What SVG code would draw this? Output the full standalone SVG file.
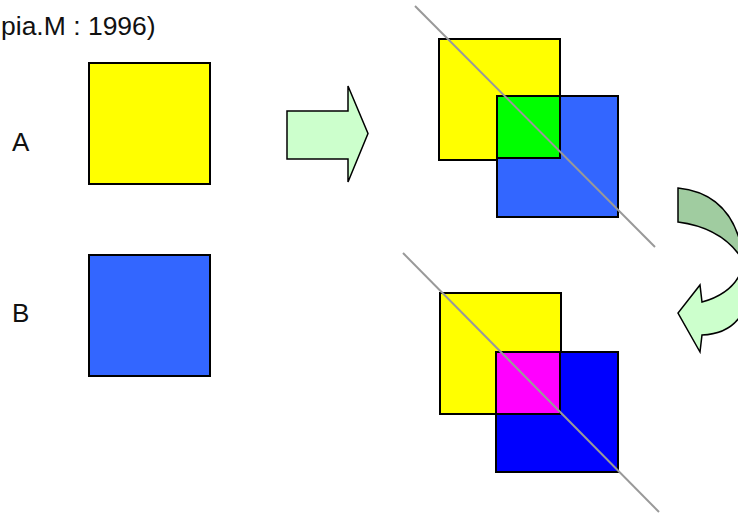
<svg xmlns="http://www.w3.org/2000/svg" width="738" height="514" viewBox="0 0 738 514">
<style>
.sq{stroke:#000;stroke-width:2}
.lbl{font-family:"Liberation Sans",Arial,sans-serif;fill:#111}
.cut{stroke:#999;stroke-width:2;fill:none}
.arr{stroke:#000;stroke-width:1.5;stroke-linejoin:miter}
</style>
<rect width="738" height="514" fill="#fff"/>
<text class="lbl" x="1" y="35" font-size="26.5">pia.M : 1996)</text>
<g id="labelA"><text class="lbl" x="12" y="151" font-size="26">A</text></g>
<g id="labelB"><text class="lbl" x="12" y="322" font-size="26">B</text></g>
<g id="squareA"><rect class="sq" x="89" y="63" width="121" height="121" fill="#ffff00"/></g>
<g id="squareB"><rect class="sq" x="89" y="255" width="121" height="121" fill="#3366ff"/></g>
<g id="arrowRight"><path class="arr" fill="#ccffcc" d="M287,111 L348,111 L348,86 L368,133.5 L348,182 L348,159 L287,159 Z"/></g>
<g id="overlapTop">
<rect class="sq" x="439" y="39" width="121" height="121" fill="#ffff00"/>
<rect class="sq" x="497" y="96" width="121" height="121" fill="#3366ff"/>
<rect class="sq" x="497" y="96" width="63" height="62" fill="#00ff00"/>
</g>
<g id="overlapBottom">
<rect class="sq" x="440" y="293" width="121" height="121" fill="#ffff00"/>
<rect class="sq" x="496" y="352" width="122" height="120" fill="#0000ff"/>
<rect class="sq" x="496" y="352" width="64" height="62" fill="#ff00ff"/>
</g>
<g id="curvedArrow">
<path class="arr" fill="#a0cca0" d="M678,188 Q736,194 744,262 Q724,228 678,222 Z"/>
<path class="arr" fill="#ccffcc" d="M744,262 Q738,292 702,302 L700,285 L678,313 L700,352 L702,335 Q732,334 744,310 Z"/>
</g>
<g id="connectors">
<line class="cut" x1="415" y1="6" x2="655" y2="247"/>
<line class="cut" x1="403" y1="253" x2="659" y2="512"/>
</g>
</svg>
